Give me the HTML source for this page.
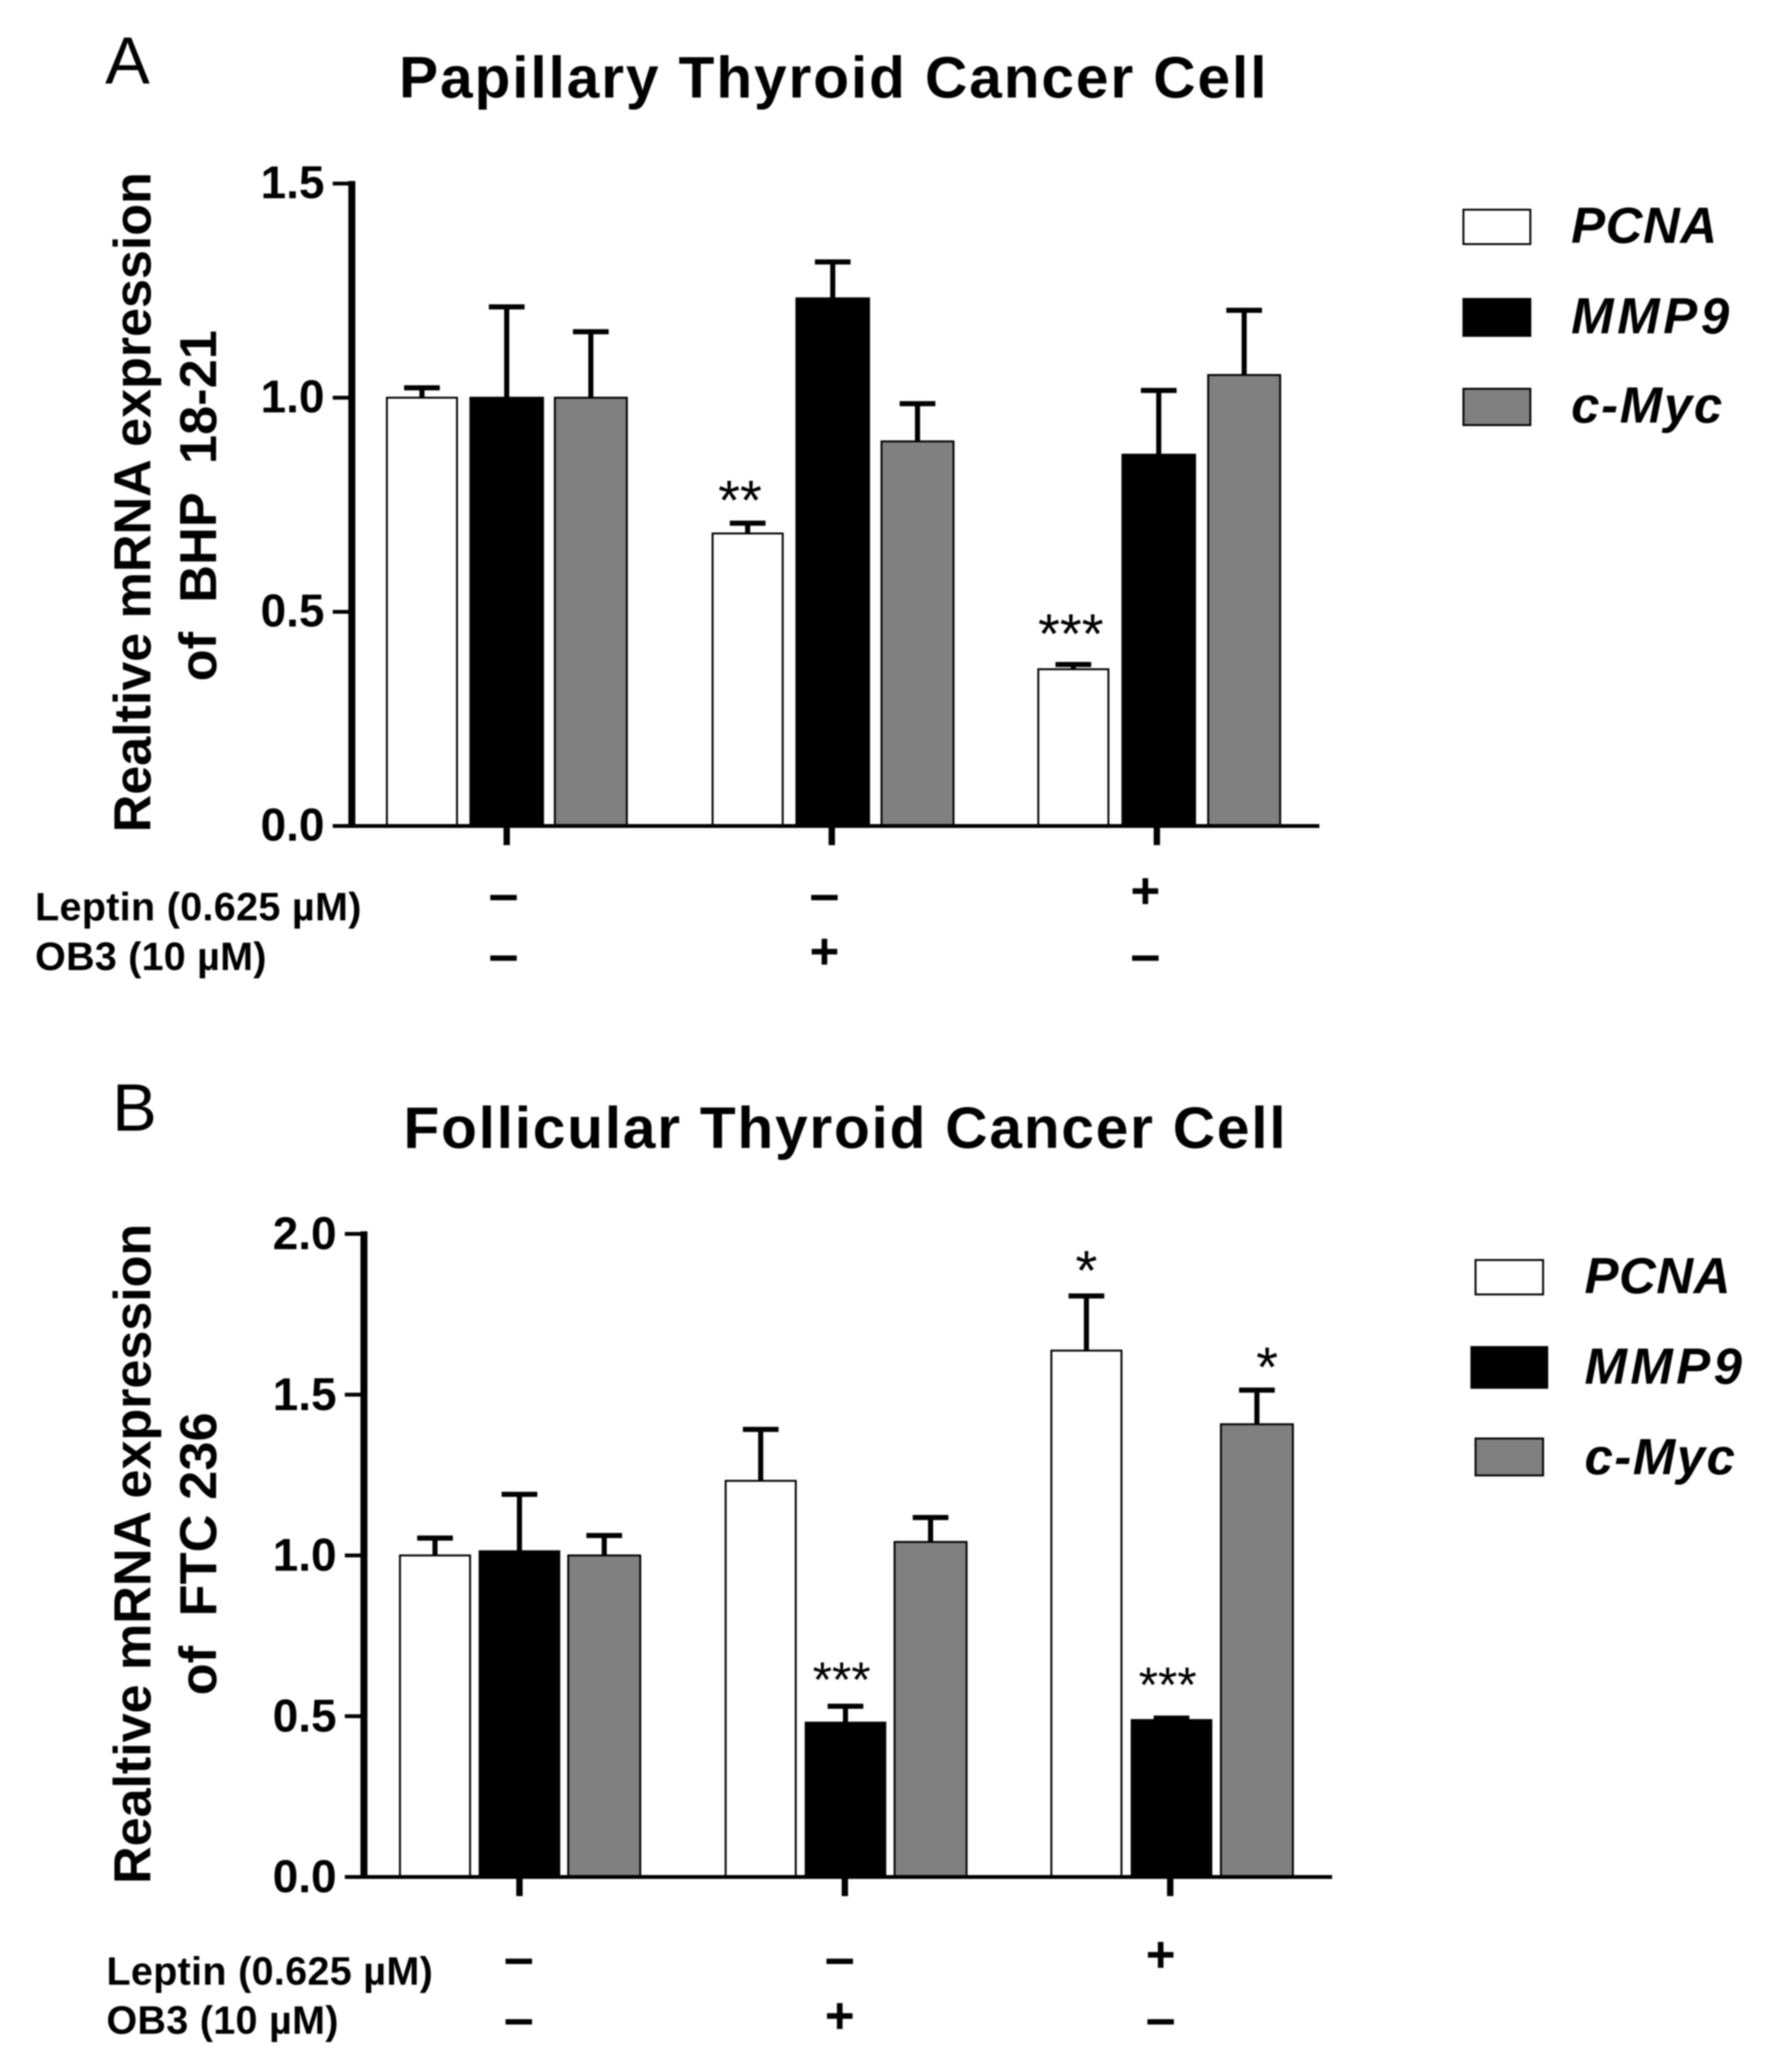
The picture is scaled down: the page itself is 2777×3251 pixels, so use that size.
<!DOCTYPE html>
<html lang="en">
<head>
<meta charset="utf-8">
<title>Relative mRNA expression in thyroid cancer cells</title>
<style>
html,body{margin:0;padding:0;background:#fff;width:2777px;height:3251px;overflow:hidden}
svg{display:block;filter:blur(1px)}
text{font-family:"Liberation Sans",Arial,sans-serif;fill:#000;white-space:pre}
.title{font-weight:bold;font-size:92px}
.ytitle{font-weight:bold;font-size:82px}
.panel{font-size:105px}
.tick{font-weight:bold;font-size:72px;text-anchor:end}
.treat{font-weight:bold;font-size:62px}
.sign{font-weight:bold;text-anchor:middle}
.legend{font-weight:bold;font-style:italic;font-size:80px}
.star{text-anchor:middle}
</style>
</head>
<body>
<svg id="chart" width="2777" height="3251" viewBox="0 0 2777 3251" xmlns="http://www.w3.org/2000/svg">
  <rect width="2777" height="3251" fill="#fff"/>

  <g id="panel-a">
    <text class="panel" x="165" y="131">A</text>
    <text class="title" x="626" y="153" textLength="1361" lengthAdjust="spacing">Papillary Thyroid Cancer Cell</text>
    <text class="ytitle" transform="translate(236 1306) rotate(-90)" textLength="1036" lengthAdjust="spacing">Realtive mRNA expression</text>
    <text class="ytitle" transform="translate(339 1069) rotate(-90)" textLength="551" lengthAdjust="spacing">of  BHP  18-21</text>
    <text class="treat" x="55" y="1444" textLength="512" lengthAdjust="spacing">Leptin (0.625 µM)</text>
    <text class="treat" x="55" y="1522" textLength="363" lengthAdjust="spacing">OB3 (10 µM)</text>
    <rect x="2296" y="329" width="105" height="54" fill="#fff" stroke="#000" stroke-width="3"/>
    <rect x="2296" y="469" width="105" height="58" fill="#000" stroke="#000" stroke-width="3"/>
    <rect x="2296" y="610" width="105" height="57" fill="#808080" stroke="#000" stroke-width="3"/>
    <text class="legend" x="2465" y="381" textLength="229" lengthAdjust="spacing">PCNA</text>
    <text class="legend" x="2465" y="523" textLength="248" lengthAdjust="spacing">MMP9</text>
    <text class="legend" x="2465" y="663" textLength="237" lengthAdjust="spacing">c-Myc</text>
  </g>

  <g id="panel-b">
    <text class="panel" x="176" y="1774">B</text>
    <text class="title" x="633" y="1801" textLength="1384" lengthAdjust="spacing">Follicular Thyroid Cancer Cell</text>
    <text class="ytitle" transform="translate(236 2956) rotate(-90)" textLength="1036" lengthAdjust="spacing">Realtive mRNA expression</text>
    <text class="ytitle" transform="translate(339 2660) rotate(-90)" textLength="444" lengthAdjust="spacing">of  FTC 236</text>
    <text class="treat" x="167" y="3114" textLength="512" lengthAdjust="spacing">Leptin (0.625 µM)</text>
    <text class="treat" x="167" y="3191" textLength="364" lengthAdjust="spacing">OB3 (10 µM)</text>
    <rect x="2315" y="1977" width="106" height="54" fill="#fff" stroke="#000" stroke-width="3"/>
    <rect x="2307" y="2112" width="122" height="67" fill="#000"/>
    <rect x="2315" y="2257" width="106" height="58" fill="#808080" stroke="#000" stroke-width="3"/>
    <text class="legend" x="2486" y="2029" textLength="229" lengthAdjust="spacing">PCNA</text>
    <text class="legend" x="2486" y="2171" textLength="247" lengthAdjust="spacing">MMP9</text>
    <text class="legend" x="2486" y="2313" textLength="236" lengthAdjust="spacing">c-Myc</text>
  </g>
</svg>

<script>
// Panel A data
const aTicks = [0, 0.5, 1.0, 1.5];
const aPcna = [1.0, 0.683, 0.366];
const aPcnaErr = [0.023, 0.024, 0.011];
const aMmp9 = [1.0, 1.232, 0.867];
const aMmp9Err = [0.212, 0.085, 0.15];
const aCmyc = [1.0, 0.898, 1.053];
const aCmycErr = [0.154, 0.088, 0.151];
const aLeptin = ['–', '–', '+'];
const aOb3 = ['–', '+', '–'];
const aSig = [['', '**', '***'], ['', '', ''], ['', '', '']];

// Panel B data
const bTicks = [0, 0.5, 1.0, 1.5, 2.0];
const bPcna = [1.0, 1.232, 1.637];
const bPcnaErr = [0.054, 0.16, 0.17];
const bMmp9 = [1.013, 0.48, 0.488];
const bMmp9Err = [0.177, 0.051, 0.006];
const bCmyc = [1.0, 1.042, 1.408];
const bCmycErr = [0.062, 0.076, 0.106];
const bLeptin = ['–', '–', '+'];
const bOb3 = ['–', '+', '–'];
const bSig = [['', '', '*'], ['', '***', '***'], ['', '', '*']];

const NS = 'http://www.w3.org/2000/svg';
function mk(parent, tag, attrs, txt) {
  const el = document.createElementNS(NS, tag);
  for (const k in attrs) el.setAttribute(k, attrs[k]);
  if (txt !== undefined) el.textContent = txt;
  parent.appendChild(el);
  return el;
}

function drawPanel(p) {
  const root = document.getElementById(p.id);
  const yScale = v => p.y0 - v * p.unit;
  const xTick = g => p.tickX0 + g * p.tickStep;
  const xSign = g => p.signX0 + g * p.signStep;

  p.series.forEach((s, si) => {
    s.values.forEach((v, g) => {
      const cx = s.x0 + g * s.step;
      const top = yScale(v);
      const errTop = yScale(v + s.errs[g]);
      const stem = mk(root, 'line', {x1: cx, x2: cx, y1: top, y2: errTop, stroke: '#000', 'stroke-width': 8});
      
      
      const cap = mk(root, 'line', {x1: cx - 28, x2: cx + 28, y1: errTop, y2: errTop, stroke: '#000', 'stroke-width': 8});
      
      
      const w = s.width;
      const bar = mk(root, 'rect', {x: cx - w / 2, y: top, width: w, height: p.y0 - top, fill: s.fill, stroke: '#000', 'stroke-width': 3});
      
      
      const sig = p.sig[si][g];
      if (sig) {
        const o = p.starLayout[si + '-' + g];
        const star = mk(root, 'text', {class: 'star', x: cx + o.dx, y: errTop + o.dy, 'font-size': o.size}, sig);
        
        
      }
    });
  });

  const ya = mk(root, 'line', {x1: p.axisX, x2: p.axisX, y1: yScale(p.ticks[p.ticks.length - 1]) - 4, y2: p.y0 + 3, stroke: '#000', 'stroke-width': 11});
  
  
  p.ticks.forEach(t => {
    const y = yScale(t);
    const tk = mk(root, 'line', {x1: p.axisX - 30, x2: p.axisX, y1: y, y2: y, stroke: '#000', 'stroke-width': 6});
    
    
    const lb = mk(root, 'text', {class: 'tick', x: p.axisX - 43, y: y + p.tickLabelDy}, t.toFixed(1));
    
    
  });

  const xa = mk(root, 'line', {x1: p.axisX - 30, x2: p.axisEnd, y1: p.y0, y2: p.y0, stroke: '#000', 'stroke-width': 6});
  
  
  p.leptin.forEach((sym, g) => {
    const x = xTick(g);
    const tk = mk(root, 'line', {x1: x, x2: x, y1: p.y0, y2: p.y0 + 30, stroke: '#000', 'stroke-width': 10});
    
    
    const sx = xSign(g);
    const a = mk(root, 'text', {class: 'sign', x: sx, y: sym === '+' ? p.plusRow1 : p.dashRow1, 'font-size': sym === '+' ? 80 : 84}, sym);
    
    
    const sym2 = p.ob3[g];
    const b = mk(root, 'text', {class: 'sign', x: sx, y: sym2 === '+' ? p.plusRow2 : p.dashRow2, 'font-size': sym2 === '+' ? 80 : 84}, sym2);
    
    
  });
}

drawPanel({
  id: 'panel-a', key: 'panel-a', y0: 1296, unit: 672, ticks: aTicks, tickLabelDy: 23,
  axisX: 552, axisEnd: 2070, tickX0: 795, tickStep: 510,
  signX0: 790, signStep: 503.5,
  dashRow1: 1431, dashRow2: 1526, plusRow1: 1425, plusRow2: 1520,
  leptin: aLeptin, ob3: aOb3, sig: aSig,
  starLayout: {
    '0-1': {dx: -12, dy: -6, size: 88},
    '0-2': {dx: -4, dy: -18, size: 88}
  },
  series: [
    {name: 'pcna', fill: '#fff', x0: 662, step: 511, width: 110, values: aPcna, errs: aPcnaErr},
    {name: 'mmp9', fill: '#000', x0: 795, step: 511.5, width: 114, values: aMmp9, errs: aMmp9Err},
    {name: 'c-myc', fill: '#808080', x0: 927, step: 512.5, width: 113, values: aCmyc, errs: aCmycErr}
  ]
});

drawPanel({
  id: 'panel-b', key: 'panel-b', y0: 2945, unit: 504.5, ticks: bTicks, tickLabelDy: 24,
  axisX: 571, axisEnd: 2090, tickX0: 815, tickStep: 510.5,
  signX0: 814, signStep: 503.5,
  dashRow1: 3100, dashRow2: 3195, plusRow1: 3094, plusRow2: 3190,
  leptin: bLeptin, ob3: bOb3, sig: bSig,
  starLayout: {
    '0-2': {dx: 0, dy: -10, size: 88},
    '1-1': {dx: -6, dy: -15, size: 78},
    '1-2': {dx: -6, dy: -26, size: 78},
    '2-2': {dx: 16, dy: -6, size: 88}
  },
  series: [
    {name: 'pcna', fill: '#fff', x0: 682.5, step: 511, width: 110, values: bPcna, errs: bPcnaErr},
    {name: 'mmp9', fill: '#000', x0: 815, step: 511.5, width: 125, values: bMmp9, errs: bMmp9Err},
    {name: 'c-myc', fill: '#808080', x0: 948, step: 512, width: 113, values: bCmyc, errs: bCmycErr}
  ]
});
</script>
</body>
</html>
